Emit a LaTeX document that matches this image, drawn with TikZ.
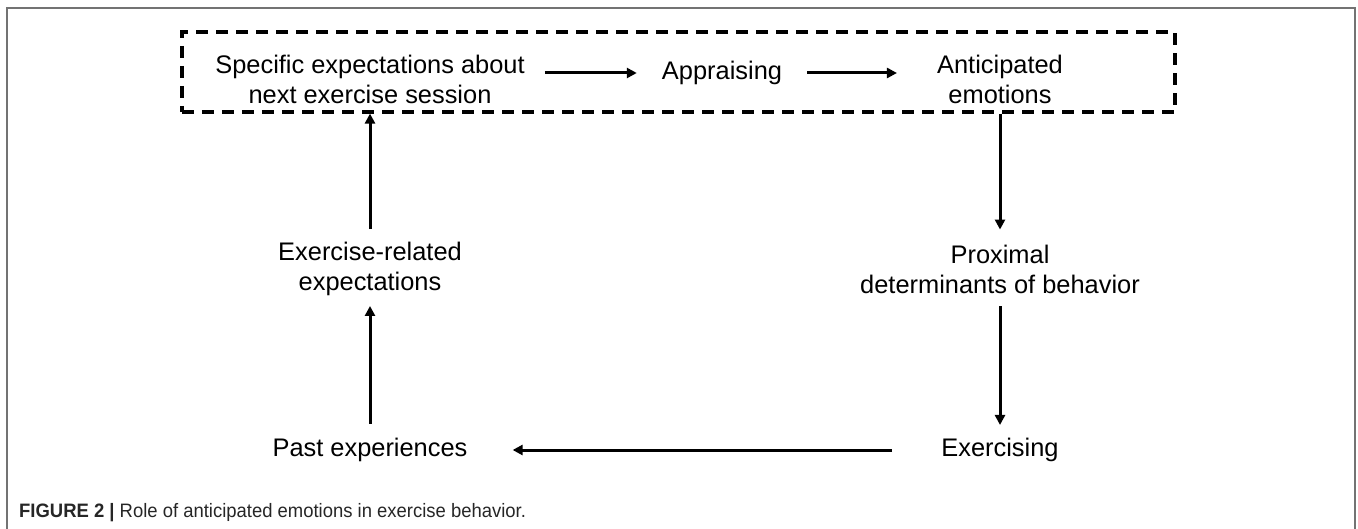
\documentclass[tikz,border=0pt]{standalone}
\usepackage{fontspec}
\setmainfont{Liberation Sans}
\newfontfamily\capfont{Liberation Sans}[FakeStretch=0.95]
\usetikzlibrary{positioning}
\usetikzlibrary{arrows.meta}

\tikzset{
    lbl/.style={align=center, inner sep=0pt, font=\fontsize{25.5}{30}\selectfont},
    arr/.style={line width=3bp, -{Triangle[length=10bp,width=10bp]}},
    dashbox/.style={draw, line width=3.2bp, dash pattern=on 12bp off 8bp, minimum width=993bp, minimum height=80bp, inner sep=0pt},
}

\begin{document}
\begin{tikzpicture}[x=1bp, y=-1bp]
    \useasboundingbox (0,0) rectangle (1358,529);
    \draw[line width=1.8bp, black!55] (7,529) -- (7,8) -- (1355,8) -- (1355,529);

    \node [dashbox] (box) at (678.5,72) {};

    \node [lbl] (spec) at (370,79) {Specific expectations about\\next exercise session};
    \node [lbl] (appr) at (722,73) {Appraising};
    \node [lbl] (antic) at (1000,79) {Anticipated\\emotions};

    \node [lbl] (exrel) at (370,269) {Exercise-related\\expectations};
    \node [lbl] (prox) at (1000,269) {Proximal\\determinants of behavior};

    \node [lbl] (past) at (370,450) {Past experiences};
    \node [lbl] (exer) at (1000,450) {Exercising};

    \draw [arr, shorten <=20bp, shorten >=25bp] (spec.east |- appr) -- (appr.west);
    \draw [arr, shorten <=25bp, shorten >=40bp] (appr.east) -- (antic.west |- appr);
    \draw [arr, shorten >=15bp] (box.south -| prox) -- (prox.north);
    \draw [arr, shorten <=13bp, shorten >=13bp] (prox.south) -- (exer.north);
    \draw [arr, shorten <=49bp, shorten >=45bp] (exer.west) -- (past.east);
    \draw [arr, shorten <=14bp, shorten >=10bp] (past.north) -- (exrel.south);
    \draw [arr, shorten <=13bp] (exrel.north) -- (box.south -| exrel);

    \node [anchor=base west, inner sep=0pt, text=black!85, font=\capfont\fontsize{19.5}{21}\selectfont] (cap) at (19,517) {\textbf{FIGURE 2 |} Role of anticipated emotions in exercise behavior.};
\end{tikzpicture}
\end{document}
